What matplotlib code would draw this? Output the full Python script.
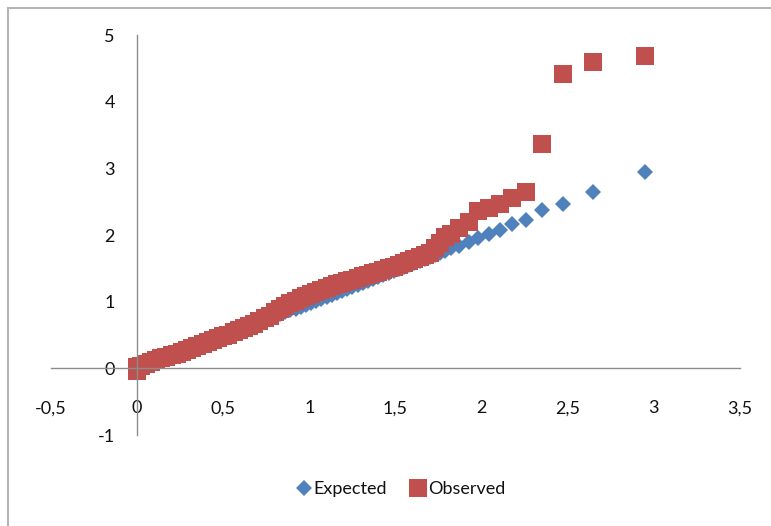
import matplotlib.pyplot as plt
from matplotlib.patches import Rectangle

# Theoretical quantiles (shared x) and the two series
quantiles = [0.00, 0.00, 0.02, 0.05, 0.08, 0.11, 0.14, 0.17, 0.20, 0.23,
             0.26, 0.29, 0.32, 0.35, 0.38, 0.41, 0.44, 0.47, 0.50, 0.53,
             0.56, 0.59, 0.62, 0.65, 0.68, 0.71, 0.74, 0.77, 0.80, 0.83,
             0.86, 0.89, 0.92, 0.95, 0.98, 1.01, 1.04, 1.07, 1.10, 1.13,
             1.16, 1.19, 1.22, 1.25, 1.28, 1.31, 1.34, 1.37, 1.40, 1.43,
             1.46, 1.49, 1.52, 1.55, 1.58, 1.61, 1.64, 1.67, 1.70, 1.73,
             1.76, 1.79, 1.82, 1.867, 1.925, 1.98, 2.04, 2.104, 2.175, 2.255,
             2.35, 2.475, 2.645, 2.95]

expected = [0.00, 0.00, 0.02, 0.05, 0.08, 0.11, 0.13, 0.16, 0.19, 0.22,
            0.25, 0.28, 0.31, 0.34, 0.37, 0.40, 0.43, 0.46, 0.48, 0.51,
            0.54, 0.57, 0.60, 0.63, 0.66, 0.69, 0.72, 0.75, 0.78, 0.81,
            0.84, 0.87, 0.89, 0.92, 0.95, 0.98, 1.01, 1.04, 1.07, 1.10,
            1.13, 1.16, 1.19, 1.22, 1.25, 1.28, 1.31, 1.34, 1.37, 1.40,
            1.43, 1.46, 1.49, 1.52, 1.55, 1.58, 1.61, 1.64, 1.67, 1.70,
            1.73, 1.76, 1.80, 1.83, 1.90, 1.96, 2.01, 2.08, 2.16, 2.22,
            2.37, 2.47, 2.65, 2.94]

observed = [-0.04, 0.02, 0.03, 0.06, 0.09, 0.12, 0.15, 0.17, 0.20, 0.22,
            0.25, 0.27, 0.30, 0.33, 0.36, 0.39, 0.42, 0.45, 0.48, 0.50,
            0.54, 0.57, 0.60, 0.63, 0.67, 0.71, 0.75, 0.79, 0.84, 0.89,
            0.93, 0.98, 1.01, 1.05, 1.09, 1.12, 1.15, 1.18, 1.21, 1.24,
            1.26, 1.28, 1.31, 1.33, 1.36, 1.38, 1.40, 1.43, 1.45, 1.47,
            1.50, 1.52, 1.55, 1.58, 1.61, 1.64, 1.67, 1.70, 1.73, 1.81,
            1.88, 1.97, 2.01, 2.10, 2.20, 2.36, 2.40, 2.46, 2.55, 2.65,
            3.36, 4.42, 4.60, 4.69]

x_ticks = [-0.5, 0, 0.5, 1, 1.5, 2, 2.5, 3, 3.5]
y_ticks = [-1, 0, 1, 2, 3, 4, 5]

plt.rcParams['font.family'] = ['Lato', 'DejaVu Sans']

fig = plt.figure(figsize=(7.71, 5.26), dpi=100)
ax = fig.add_axes([51 / 771, 91 / 526, 689 / 771, 400 / 526])

ax.plot(quantiles, expected, linestyle='none', marker='D', markersize=8.5,
        color='#4F81BD', markeredgewidth=0, label='Expected')
ax.plot(quantiles, observed, linestyle='none', marker='s', markersize=12.5,
        color='#C0504D', markeredgewidth=0, label='Observed')

ax.set_xlim(-0.5, 3.5)
ax.set_ylim(-1, 5)
ax.set_xticks(x_ticks)
ax.set_yticks(y_ticks)
ax.set_xticklabels([f'{v:g}'.replace('.', ',') for v in x_ticks])
ax.set_yticklabels([f'{v:g}' for v in y_ticks])

# axes crossing at zero, Excel style
ax.spines['left'].set_position(('data', 0))
ax.spines['bottom'].set_position(('data', 0))
ax.spines['right'].set_visible(False)
ax.spines['top'].set_visible(False)
for s in ['left', 'bottom']:
    ax.spines[s].set_color('#8c8c8c')
    ax.spines[s].set_linewidth(1.0)
ax.tick_params(axis='x', length=0, pad=23, labelsize=13, labelcolor='#111111')
ax.tick_params(axis='y', length=0, pad=16, labelsize=13, labelcolor='#111111')

fig.legend(loc='center', bbox_to_anchor=(400 / 771, 1 - 489 / 526), ncol=2,
           frameon=False, fontsize=13, handletextpad=0.05, columnspacing=1.2,
           handlelength=1.0, labelcolor='#111111')

# chart border (only left and top edges are visible in the crop)
fig.add_artist(Rectangle((8 / 771, -0.5), 2, 0.5 + 518 / 526, transform=fig.transFigure,
                         fill=False, edgecolor='#b5b5b5', linewidth=1.5))

fig.savefig('out.png', dpi=100)
